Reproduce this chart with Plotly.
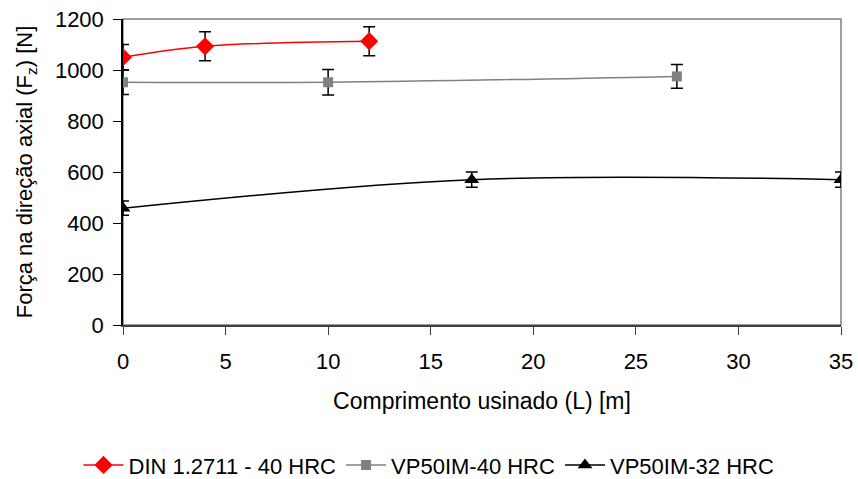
import plotly.graph_objects as go

# Data
din_x = [0, 4, 12]
din_y = [1050, 1093, 1113]
din_err = [50, 57, 57]

vp40_x = [0, 10, 27]
vp40_y = [952, 952, 975]
vp40_err = [48, 50, 47]

vp32_x = [0, 17, 35]
vp32_y = [458, 570, 570]
vp32_err = [28, 30, 30]

x_ticks = [0, 5, 10, 15, 20, 25, 30, 35]
y_ticks = [0, 200, 400, 600, 800, 1000, 1200]

FONT = "Liberation Sans, Arial, sans-serif"

fig = go.Figure()

def add_series(x, y, err, name, color, symbol, size, lw):
    fig.add_trace(go.Scatter(
        x=x, y=y, name=name, mode="lines+markers",
        line=dict(color=color, width=lw, shape="spline", smoothing=1.0),
        marker=dict(color=color, symbol=symbol, size=size),
        error_y=dict(type="data", array=err, visible=True, color="black",
                     thickness=1.5, width=6),
    ))

add_series(din_x, din_y, din_err, "DIN 1.2711 - 40 HRC", "#ff0000", "diamond", 14, 1.5)
add_series(vp40_x, vp40_y, vp40_err, "VP50IM-40 HRC", "#808080", "square", 10, 1.5)
add_series(vp32_x, vp32_y, vp32_err, "VP50IM-32 HRC", "#000000", "triangle-up", 13, 1.5)

# plot-area border (top & right gray)
fig.add_shape(type="rect", xref="x domain", yref="y domain", x0=0, x1=1, y0=0, y1=1,
              line=dict(color="#808080", width=1.5), layer="below")

fig.update_layout(
    width=858, height=479,
    margin=dict(l=123, r=17, t=19, b=154, autoexpand=False),
    paper_bgcolor="white", plot_bgcolor="white",
    font=dict(family=FONT, size=22, color="black"),
    showlegend=True,
    legend=dict(orientation="h", x=0.5, xanchor="center", xref="container",
                y=0.029, yanchor="middle", yref="container",
                font=dict(size=22), itemwidth=40, tracegroupgap=0),
    xaxis=dict(range=[0, 35], tickvals=x_ticks, ticks="outside", ticklen=8,
               tickcolor="#404040", showline=True, linecolor="#404040", linewidth=2,
               showgrid=False, zeroline=False, automargin=False,
               ticklabeloverflow="allow", ticklabelstandoff=8,
               title=dict(text="Comprimento usinado (L) [m]", font=dict(size=23), standoff=19),
               tickfont=dict(size=22)),
    yaxis=dict(range=[0, 1200], tickvals=y_ticks, ticks="outside", ticklen=8,
               tickcolor="black", showline=True, linecolor="black", linewidth=1.5,
               showgrid=False, zeroline=False, automargin=False,
               ticklabeloverflow="allow", ticklabelstandoff=5,
               title=dict(text="Força na direção axial (F<sub>z</sub>) [N]", font=dict(size=22), standoff=16),
               tickfont=dict(size=22)),
)

# remove the default 8px page margin so the figure sits at the window's top-left corner
fig.write_html("out.html", config={"displayModeBar": False},
               post_script="document.body.style.margin='0';")
